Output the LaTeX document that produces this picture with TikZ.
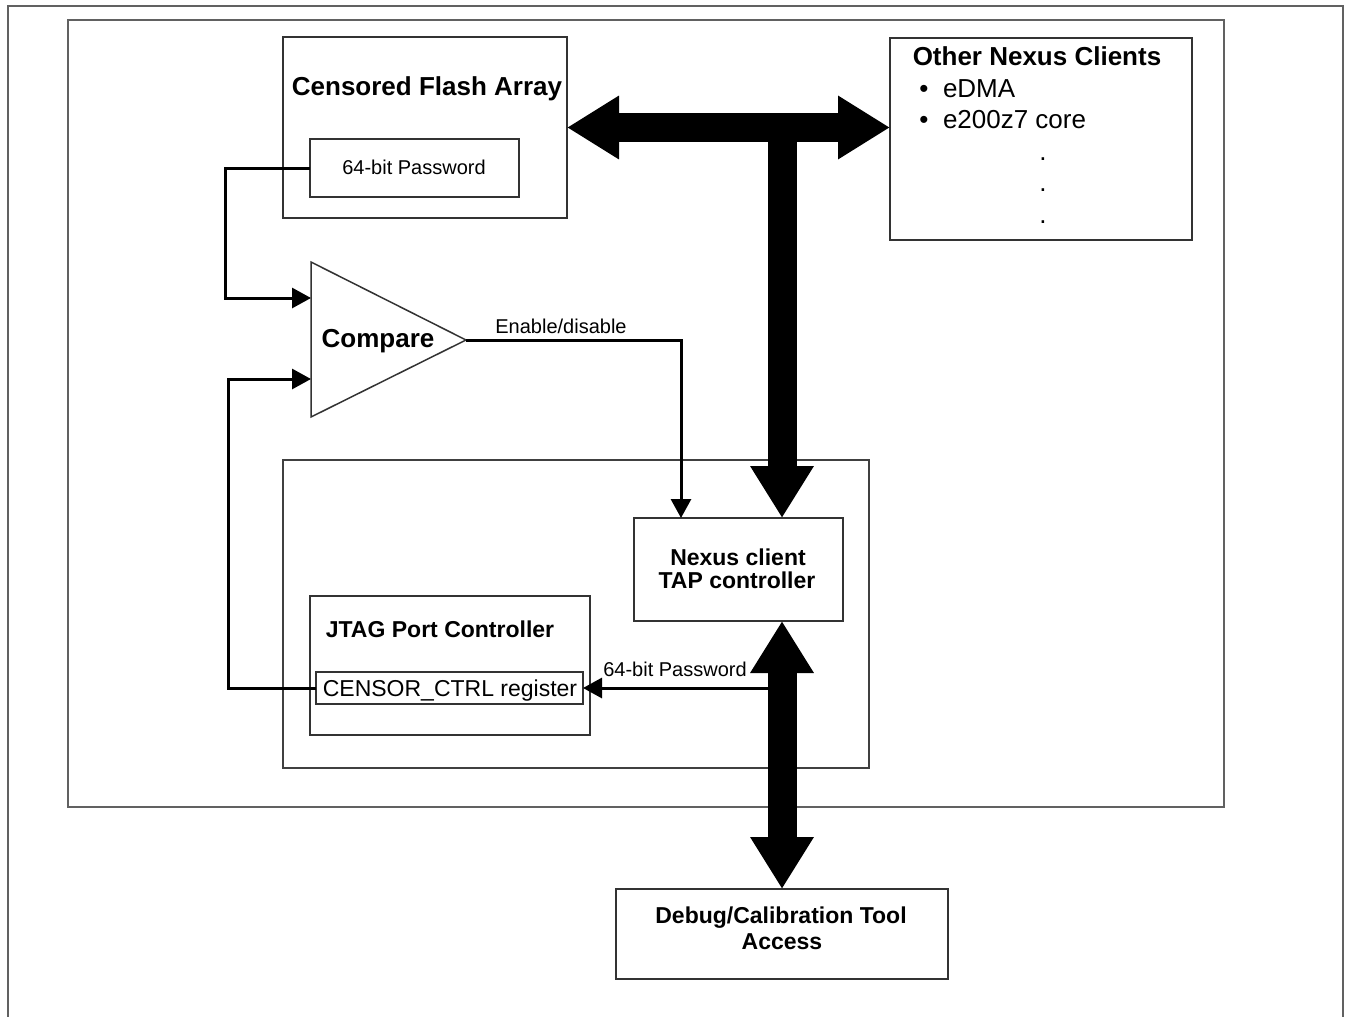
\documentclass[tikz,border=0pt]{standalone}
\usepackage{fontspec}
\setmainfont{Liberation Sans}
\usetikzlibrary{arrows.meta}
\tikzset{BigHead/.tip={Triangle[length=52pt,width=60pt]},
         SmallHead/.tip={Triangle[length=19pt,width=20pt]}}
\begin{document}
\begin{tikzpicture}[x=1pt,y=-1pt,
  frame/.style={draw=black!62, line width=2pt},
  box/.style={draw=black!80, line width=1.5pt, inner sep=0pt, outer sep=0pt, anchor=north west},
  wire/.style={draw=black, line width=3pt, line join=miter},
  tipped/.style={-{SmallHead}},
  bus/.style={draw=black, line width=29pt, line cap=butt},
  txt/.style={anchor=base, inner sep=0pt, outer sep=0pt},
  ttl/.style={txt, font=\fontsize{26}{30}\selectfont\bfseries},
  sub/.style={txt, font=\fontsize{23}{27}\selectfont\bfseries},
  big/.style={txt, font=\fontsize{26}{30}\selectfont},
  mid/.style={txt, font=\fontsize{23}{27}\selectfont},
  sml/.style={txt, font=\fontsize{20}{24}\selectfont}]
\useasboundingbox (0,0) rectangle (1349,1017);
\clip (0,0) rectangle (1349,1017);
\fill[white] (0,0) rectangle (1349,1017);

% frames
\draw[frame] (8,6) rectangle (1343,1040);
\draw[frame] (68,20) rectangle (1224,807);
\draw[frame, draw=black!75, line width=1.5pt] (283,460) rectangle (869,768);

% boxes
\node[box, minimum width=284pt, minimum height=181pt] (cfa) at (283,37) {};
\node[box, minimum width=209pt, minimum height=58pt] (pw) at (310,139) {};
\node[box, minimum width=302pt, minimum height=202pt] (onc) at (890,38) {};
\node[box, minimum width=209pt, minimum height=103pt] (nexus) at (634,518) {};
\node[box, minimum width=280pt, minimum height=139pt] (jtag) at (310,596) {};
\node[box, minimum width=267pt, minimum height=32pt] (reg) at (316,672) {};
\node[box, minimum width=332pt, minimum height=90pt] (debug) at (616,889) {};

% compare triangle
\coordinate (cmpa) at (311,262);
\coordinate (cmpb) at (311,417);
\coordinate (cmpout) at (466,340);
\coordinate (cmpin1) at (311,298);
\coordinate (cmpin2) at (311,379);
\draw[draw=black!80, line width=1.5pt, line join=miter] (cmpa) -- (cmpout) -- (cmpb) -- cycle;

% texts
\node[ttl] (tcfa) at (427,95) {Censored Flash Array};
\node[sml] (tpw) at (414,174) {64-bit Password};
\node[ttl] (tonc) at (1037,65) {Other Nexus Clients};
\node[big] (b1) at (924,97) {•};
\node[big, anchor=base west] (t1) at (943,97) {eDMA};
\node[big] (b2) at (924,128) {•};
\node[big, anchor=base west] (t2) at (943,128) {e200z7 core};
\node[big] (d1) at (1043,160) {.};
\node[big] (d2) at (1043,191) {.};
\node[big] (d3) at (1043,223) {.};
\node[ttl] (tcmp) at (378,347) {Compare};
\node[sml] (ten) at (561,333) {Enable/disable};
\node[sub] (tn1) at (738,565) {Nexus client};
\node[sub] (tn2) at (737,588) {TAP controller};
\node[sub] (tjtag) at (440,637) {JTAG Port Controller};
\node[mid] (treg) at (450,696) {CENSOR\_CTRL register};
\node[sml] (tpw2) at (675,676) {64-bit Password};
\node[sub] (td1) at (781,923) {Debug/Calibration Tool};
\node[sub] (td2) at (782,949) {Access};

% wires
\coordinate (lx1) at (225,298);
\coordinate (lx2) at (228,379);
\draw[wire, tipped] (pw.west) -| (lx1) -- (cmpin1);
\draw[wire, tipped] (reg.west) -| (lx2) -- (cmpin2);
\draw[wire, tipped] (cmpout) -| (681,518);
\coordinate (busx) at (782,127);
\draw[wire, tipped] (busx |- reg.east) -- (reg.east);

% buses
\draw[bus, {BigHead}-{BigHead}] (cfa.east) -- (cfa.east -| onc.west);
\draw[bus, -{BigHead}] (782,113) -- (busx |- nexus.north);
\draw[bus, {BigHead}-{BigHead}] (busx |- nexus.south) -- (debug.north);
\end{tikzpicture}
\end{document}
